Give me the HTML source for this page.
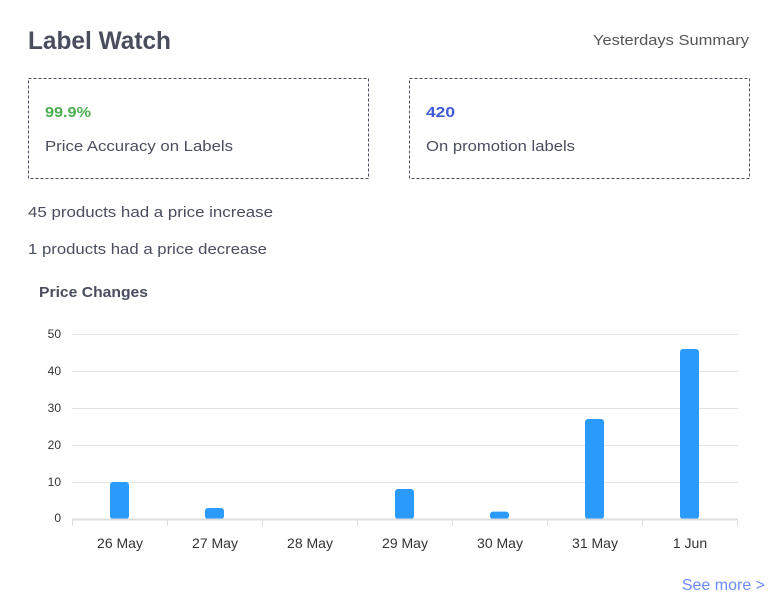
<!DOCTYPE html>
<html><head><meta charset="utf-8"><style>
html,body{margin:0;padding:0;background:#fff;width:779px;height:605px;overflow:hidden}
svg{display:block}
</style></head><body>
<svg width="779" height="605" xmlns="http://www.w3.org/2000/svg" font-family="Liberation Sans, sans-serif">
<text x="28" y="49" font-size="25" font-weight="bold" fill="#4a4d5e" textLength="143" lengthAdjust="spacingAndGlyphs">Label Watch</text>
<text x="593" y="45" font-size="15" fill="#555" textLength="156" lengthAdjust="spacingAndGlyphs">Yesterdays Summary</text>
<rect x="28.5" y="78.5" width="340" height="100" fill="none" stroke="#4a4d5e" stroke-dasharray="3,2"/>
<rect x="409.5" y="78.5" width="340" height="100" fill="none" stroke="#4a4d5e" stroke-dasharray="3,2"/>
<text x="45" y="117" font-size="15" font-weight="bold" fill="#4caf50" textLength="46" lengthAdjust="spacingAndGlyphs">99.9%</text>
<text x="45" y="151" font-size="15" fill="#4a4d5e" textLength="188" lengthAdjust="spacingAndGlyphs">Price Accuracy on Labels</text>
<text x="426" y="117" font-size="15" font-weight="bold" fill="#3f5bd6" textLength="29" lengthAdjust="spacingAndGlyphs">420</text>
<text x="426" y="151" font-size="15" fill="#4a4d5e" textLength="149" lengthAdjust="spacingAndGlyphs">On promotion labels</text>
<text x="28" y="217" font-size="15" fill="#4a4d5e" textLength="245" lengthAdjust="spacingAndGlyphs">45 products had a price increase</text>
<text x="28" y="254" font-size="15" fill="#4a4d5e" textLength="239" lengthAdjust="spacingAndGlyphs">1 products had a price decrease</text>
<text x="39" y="297" font-size="15" font-weight="bold" fill="#4a4d5e" textLength="109" lengthAdjust="spacingAndGlyphs">Price Changes</text>
<g stroke="#e3e3e3" stroke-width="1">
<line x1="72" x2="738" y1="334.5" y2="334.5"/>
<line x1="72" x2="738" y1="371.5" y2="371.5"/>
<line x1="72" x2="738" y1="408.5" y2="408.5"/>
<line x1="72" x2="738" y1="445.5" y2="445.5"/>
<line x1="72" x2="738" y1="482.5" y2="482.5"/>
</g>
<g font-size="12" fill="#333" text-anchor="end">
<text x="61" y="338">50</text><text x="61" y="375">40</text><text x="61" y="412">30</text>
<text x="61" y="449">20</text><text x="61" y="486">10</text><text x="61" y="522">0</text>
</g>
<g fill="#2a9bfd">
<rect x="110" y="482" width="19" height="37" rx="3"/>
<rect x="205" y="508" width="19" height="11" rx="3"/>
<rect x="395" y="489" width="19" height="30" rx="3"/>
<rect x="490" y="511.6" width="19" height="7.4" rx="3"/>
<rect x="585" y="419" width="19" height="100" rx="3"/>
<rect x="680" y="349" width="19" height="170" rx="3"/>
</g>
<line x1="72" x2="738" y1="519.5" y2="519.5" stroke="#ddd" stroke-width="2"/>
<g stroke="#ddd">
<line x1="72.5" x2="72.5" y1="519" y2="526"/><line x1="167.5" x2="167.5" y1="519" y2="526"/>
<line x1="262.5" x2="262.5" y1="519" y2="526"/><line x1="357.5" x2="357.5" y1="519" y2="526"/>
<line x1="452.5" x2="452.5" y1="519" y2="526"/><line x1="547.5" x2="547.5" y1="519" y2="526"/>
<line x1="642.5" x2="642.5" y1="519" y2="526"/><line x1="737.5" x2="737.5" y1="519" y2="526"/>
</g>
<g font-size="14" fill="#333" text-anchor="middle">
<text x="120" y="548">26 May</text><text x="215" y="548">27 May</text><text x="310" y="548">28 May</text>
<text x="405" y="548">29 May</text><text x="500" y="548">30 May</text><text x="595" y="548">31 May</text>
<text x="690" y="548">1 Jun</text>
</g>
<text x="765" y="590" font-size="16" fill="#6b8cff" text-anchor="end">See more &gt;</text>
</svg>
</body></html>
